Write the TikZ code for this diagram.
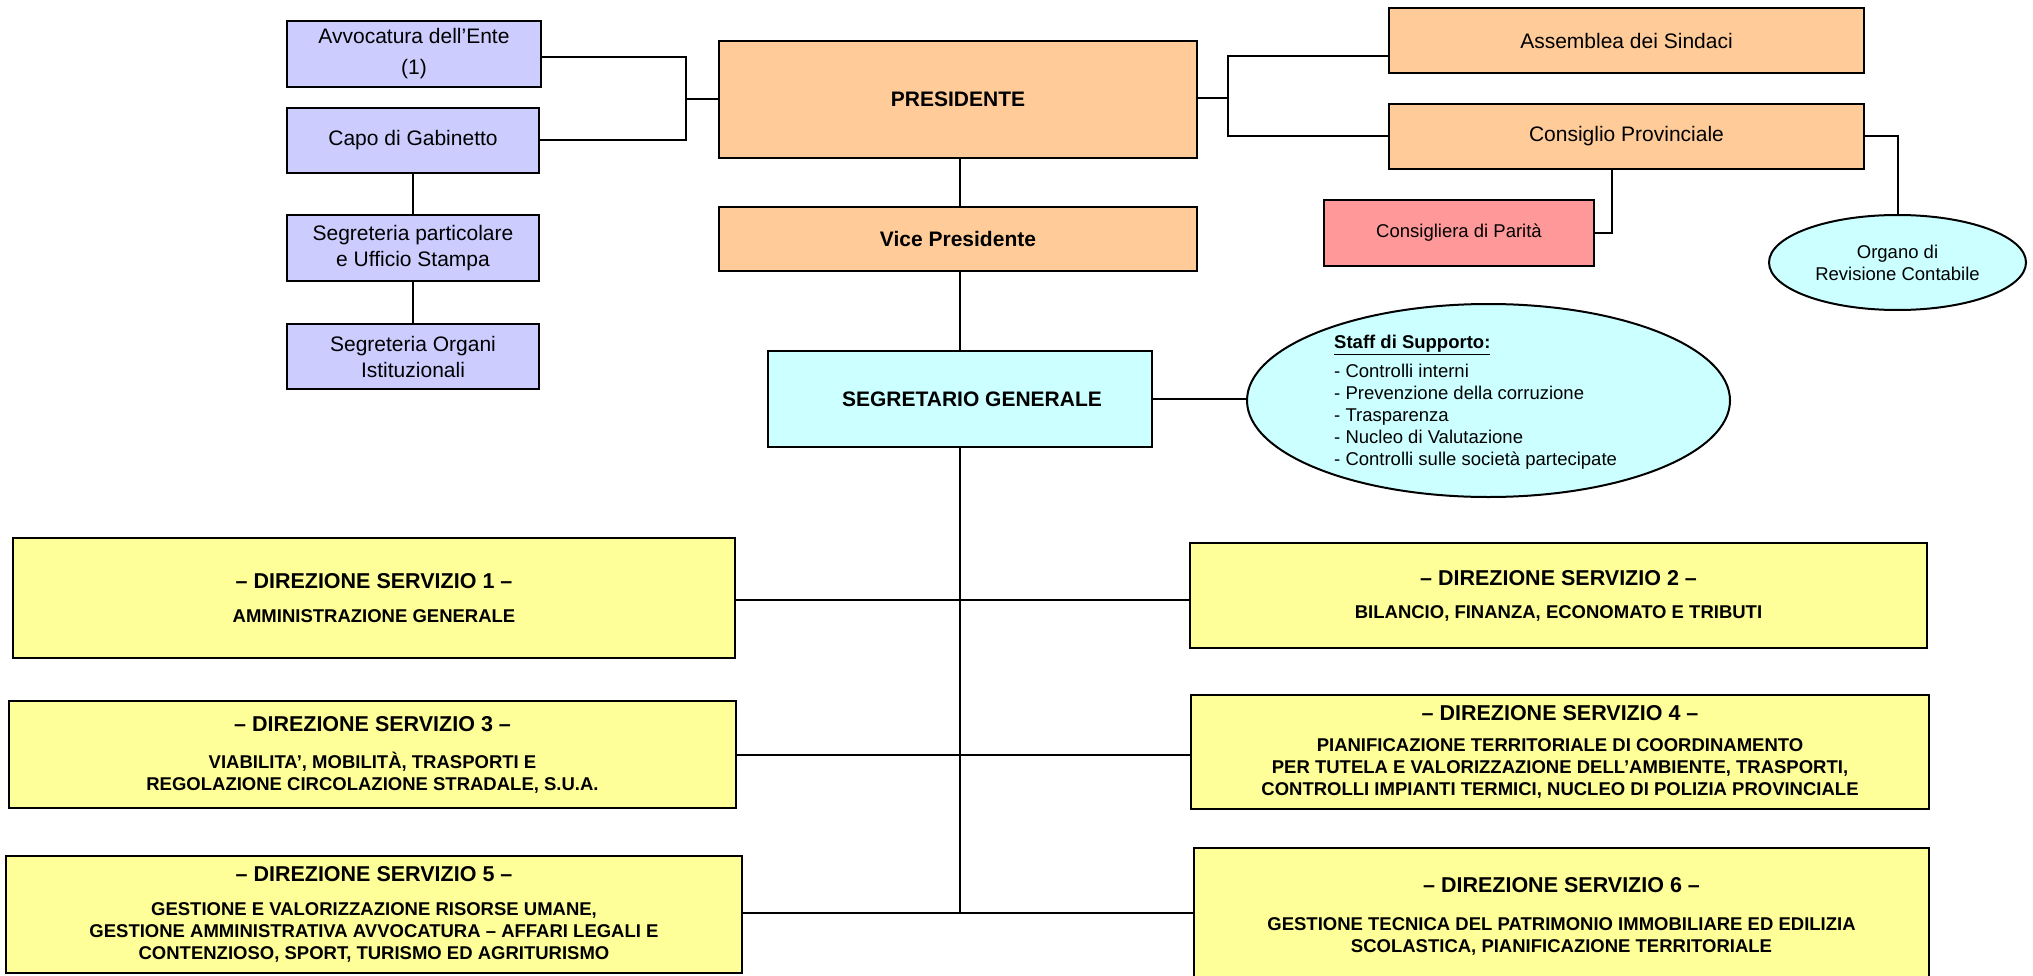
\documentclass[tikz,border=0pt]{standalone}
\usepackage{fontspec}
\setmainfont{Liberation Sans}
\usetikzlibrary{shapes.geometric,calc}
\definecolor{lilac}{HTML}{CCCCFF}
\definecolor{peach}{HTML}{FFCC99}
\definecolor{rose}{HTML}{FF9999}
\definecolor{aqua}{HTML}{CCFFFF}
\definecolor{lemon}{HTML}{FFFF99}
\newcommand{\fsA}{\fontsize{21}{26}\selectfont}
\newcommand{\fsB}{\fontsize{18.5}{22}\selectfont}
\newcommand{\fsT}{\fontsize{21.5}{26}\selectfont\bfseries}
\tikzset{
  boxbase/.style={draw=black, line width=2pt, rectangle, inner sep=0pt, align=center},
  purplebox/.style={boxbase, fill=lilac, font=\fsA},
  orangebox/.style={boxbase, fill=peach, font=\fsA},
  pinkbox/.style={boxbase, fill=rose, font=\fsB},
  cyanbox/.style={boxbase, fill=aqua, font=\fsA\bfseries},
  dirbox/.style={boxbase, fill=lemon, font=\fsB\bfseries},
  oval/.style={draw=black, line width=2pt, ellipse, fill=aqua, inner sep=0pt, align=center, font=\fsB},
  conn/.style={draw=black, line width=2pt},
}
\begin{document}
\begin{tikzpicture}[x=1pt, y=-1pt]
\useasboundingbox (0,0) rectangle (2033,976);
% left column
\node[purplebox, minimum width=254pt, minimum height=66pt] (avv) at (414,54) {Avvocatura dell’Ente\\[5pt](1)};
\node[purplebox, minimum width=252pt, minimum height=65pt] (capo) at (413,140.5) {Capo di Gabinetto};
\node[purplebox, minimum width=252pt, minimum height=66pt] (segp) at (413,248) {Segreteria particolare\\e Ufficio Stampa};
\node[purplebox, minimum width=252pt, minimum height=65pt] (sego) at (413,356.5) {Segreteria Organi\\Istituzionali};
% centre
\node[orangebox, minimum width=478pt, minimum height=117pt, font=\fsA\bfseries] (pres) at (958,99.5) {PRESIDENTE};
\node[orangebox, minimum width=478pt, minimum height=64pt, font=\fsA\bfseries] (vice) at (958,239) {Vice Presidente};
\node[cyanbox, minimum width=384pt, minimum height=96pt] (seg) at (960,399) {\hspace*{24pt}SEGRETARIO GENERALE};
% right top
\node[orangebox, minimum width=475pt, minimum height=65pt] (ass) at (1626.5,40.5) {Assemblea dei Sindaci};
\node[orangebox, minimum width=475pt, minimum height=65pt] (cons) at (1626.5,136.5) {Consiglio Provinciale};
\node[pinkbox, minimum width=270pt, minimum height=66pt] (cpar) at (1459,233) {Consigliera di Parità};
\node[oval, minimum width=257pt, minimum height=95pt] (org) at (1897.5,262.5) {Organo di\\Revisione Contabile};
% staff
\node[oval, minimum width=483pt, minimum height=193pt] (staff) at (1488.5,400.5) {};
\node[anchor=west, align=left, font=\fsB, inner sep=0pt] (stafftext) at (1334,402.5)
  {{\bfseries\underline{Staff di Supporto:}}\\[7pt]- Controlli interni\\- Prevenzione della corruzione\\- Trasparenza\\- Nucleo di Valutazione\\- Controlli sulle società partecipate};
% directions
\node[dirbox, minimum width=722pt, minimum height=120pt] (d1) at (374,598)
  {{\fsT – DIREZIONE SERVIZIO 1 –}\\[12pt]AMMINISTRAZIONE GENERALE};
\node[dirbox, minimum width=737pt, minimum height=105pt] (d2) at (1558.5,595.5)
  {{\fsT – DIREZIONE SERVIZIO 2 –}\\[11pt]BILANCIO, FINANZA, ECONOMATO E TRIBUTI};
\node[dirbox, minimum width=727pt, minimum height=107pt] (d3) at (372.5,754.5)
  {{\fsT – DIREZIONE SERVIZIO 3 –}\\[15pt]VIABILITA’, MOBILITÀ, TRASPORTI E\\REGOLAZIONE CIRCOLAZIONE STRADALE, S.U.A.};
\node[dirbox, minimum width=738pt, minimum height=114pt] (d4) at (1560,752)
  {{\fsT – DIREZIONE SERVIZIO 4 –}\\[9pt]PIANIFICAZIONE TERRITORIALE DI COORDINAMENTO\\PER TUTELA E VALORIZZAZIONE DELL’AMBIENTE, TRASPORTI,\\CONTROLLI IMPIANTI TERMICI, NUCLEO DI POLIZIA PROVINCIALE};
\node[dirbox, minimum width=735pt, minimum height=137pt] (d6) at (1561.5,916.5)
  {{\fsT – DIREZIONE SERVIZIO 6 –}\\[16pt]GESTIONE TECNICA DEL PATRIMONIO IMMOBILIARE ED EDILIZIA\\SCOLASTICA, PIANIFICAZIONE TERRITORIALE};
\node[dirbox, minimum width=736pt, minimum height=117pt] (d5) at (374,914.5)
  {{\fsT – DIREZIONE SERVIZIO 5 –}\\[12pt]GESTIONE E VALORIZZAZIONE RISORSE UMANE,\\GESTIONE AMMINISTRATIVA AVVOCATURA – AFFARI LEGALI E\\CONTENZIOSO, SPORT, TURISMO ED AGRITURISMO};
% coordinates
\coordinate (lb) at (686,99);
\coordinate (rb) at (1228,98);
\coordinate (r1) at (960,600);
\coordinate (r2) at (960,755);
\coordinate (r3) at (960,913);
% connectors
\draw[conn] ([yshift=-3pt]avv.east) -| (lb) |- (capo.east);
\draw[conn] (lb) -- (lb -| pres.west);
\draw[conn] (capo.south) -- (segp.north);
\draw[conn] (segp.south) -- (sego.north);
\draw[conn] ([yshift=-15.5pt]ass.west) -| (rb) |- (cons.west);
\draw[conn] (rb -| pres.east) -- (rb);
\draw[conn] (cons.east) -| (org.north);
\draw[conn] ([xshift=-14.5pt]cons.south) |- (cpar.east);
\draw[conn] (pres.south -| seg.north) -- (vice.north -| seg.north);
\draw[conn] (vice.south -| seg.north) -- (seg.north);
\draw[conn] (seg.east) -- (seg.east -| staff.west);
\draw[conn] (seg.south) -- (r3);
\draw[conn] (r1 -| d1.east) -- (r1 -| d2.west);
\draw[conn] (r2 -| d3.east) -- (r2 -| d4.west);
\draw[conn] (r3 -| d5.east) -- (r3 -| d6.west);
\end{tikzpicture}
\end{document}
